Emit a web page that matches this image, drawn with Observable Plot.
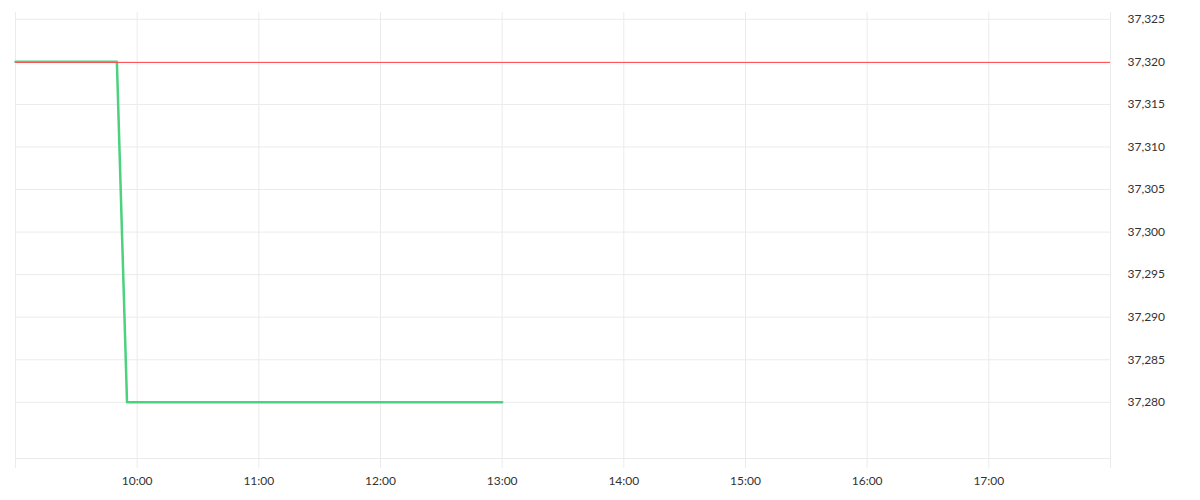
<!DOCTYPE html>
<html>
<head>
<meta charset="utf-8">
<script src="https://cdn.jsdelivr.net/npm/d3@7"></script>
<script src="https://cdn.jsdelivr.net/npm/@observablehq/plot@0.6"></script>
<style>
  html, body { margin: 0; padding: 0; background: #fff; }
  #chart svg { display: block; }
</style>
</head>
<body>
<div id="chart"></div>
<script>
const day = "2024-01-02";
const seriesTimes = ["09:00", "09:50", "09:55", "13:00"];
const seriesValues = [37320, 37320, 37280, 37280];
const referenceValue = 37320;
const xDomainTimes = ["09:00", "18:00"];
const gridTimes = ["09:00","10:00","11:00","12:00","13:00","14:00","15:00","16:00","17:00","18:00"];
const labelTimes = ["10:00","11:00","12:00","13:00","14:00","15:00","16:00","17:00"];
const yTicks = [37280, 37285, 37290, 37295, 37300, 37305, 37310, 37315, 37320, 37325];
const yDomain = [37273.4, 37325.8];

const toDate = t => new Date(`${day}T${t}:00Z`);
const series = seriesTimes.map((t, i) => ({time: toDate(t), value: seriesValues[i]}));
const fmtTime = d3.utcFormat("%H:%M");
const fmtNum = d3.format(",");

const chart = Plot.plot({
  width: 1200,
  height: 500,
  marginLeft: 15,
  marginRight: 90,
  marginTop: 12,
  marginBottom: 42,
  style: {fontFamily: "Lato, 'DejaVu Sans', sans-serif", fontSize: "12px", color: "#333"},
  x: {type: "utc", domain: xDomainTimes.map(toDate)},
  y: {domain: yDomain},
  marks: [
    Plot.gridX(gridTimes.map(toDate), {stroke: "#ebebeb", strokeOpacity: 1}),
    Plot.gridY(yTicks, {stroke: "#ebebeb", strokeOpacity: 1}),
    Plot.ruleY([yDomain[0]], {stroke: "#ebebeb"}),
    Plot.axisX(gridTimes.map(toDate), {tickSize: 10, stroke: "#ebebeb", tickFormat: () => "", label: null}),
    Plot.axisX(labelTimes.map(toDate), {tickSize: 0, tickPadding: 18, tickFormat: fmtTime, label: null, fill: "#333"}),
    Plot.axisY(yTicks, {anchor: "right", tickSize: 0, tickPadding: 17, tickFormat: fmtNum, label: null, fill: "#333"}),
    Plot.line(series, {x: "time", y: "value", stroke: "#4cd17f", strokeWidth: 2.5}),
    Plot.ruleY([referenceValue], {stroke: "#ff4f55", strokeWidth: 1, dy: 0.6})
  ]
});
document.getElementById("chart").append(chart);
</script>
</body>
</html>
